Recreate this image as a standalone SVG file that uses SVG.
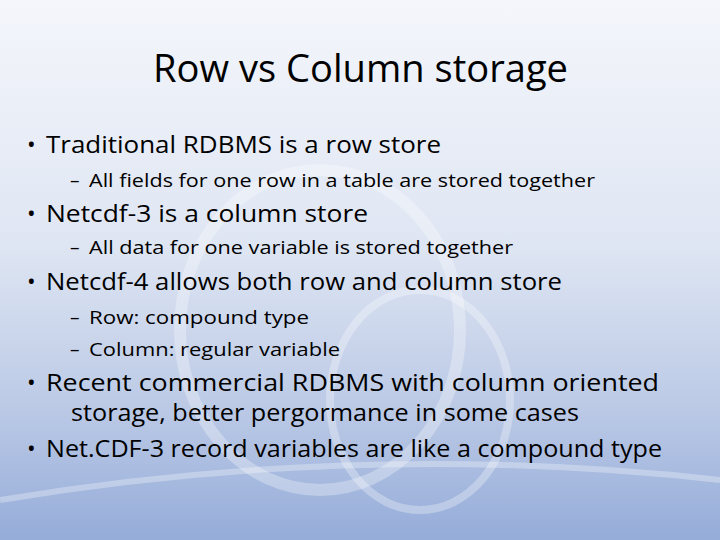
<svg xmlns="http://www.w3.org/2000/svg" width="720" height="540" viewBox="0 0 720 540">
<defs>
<linearGradient id="bg" x1="0" y1="0" x2="0" y2="1">
<stop offset="0" stop-color="#f4f6fb"/>
<stop offset="0.45" stop-color="#dfe6f3"/>
<stop offset="0.75" stop-color="#bccae6"/>
<stop offset="1" stop-color="#95acd9"/>
</linearGradient>
<style>
text{font-family:"Open Sans","Liberation Sans",sans-serif;fill:#000}
.t{font-size:38px}
.b{font-size:23px}
.s{font-size:19px}
</style>
</defs>
<rect width="720" height="540" fill="url(#bg)"/>
<g fill="none" stroke="#ffffff" stroke-opacity="0.3">
<ellipse cx="320" cy="330" rx="140" ry="160" stroke-width="12"/>
<ellipse cx="420" cy="400" rx="90" ry="110" stroke-width="8"/>
<path d="M0 500 Q360 440 720 480" stroke-width="6"/>
</g>
<text class="t" x="153" y="82" textLength="415" lengthAdjust="spacingAndGlyphs">Row vs Column storage</text>
<g class="b">
<text class="b" x="27" y="153">•</text><text class="b" x="46" y="153" textLength="395" lengthAdjust="spacingAndGlyphs">Traditional RDBMS is a row store</text>
<text class="s" x="70" y="187">–</text><text class="s" x="89" y="187" textLength="506" lengthAdjust="spacingAndGlyphs">All fields for one row in a table are stored together</text>
<text class="b" x="27" y="222">•</text><text class="b" x="46" y="222" textLength="322" lengthAdjust="spacingAndGlyphs">Netcdf-3 is a column store</text>
<text class="s" x="70" y="254">–</text><text class="s" x="89" y="254" textLength="424" lengthAdjust="spacingAndGlyphs">All data for one variable is stored together</text>
<text class="b" x="27" y="290">•</text><text class="b" x="46" y="290" textLength="516" lengthAdjust="spacingAndGlyphs">Netcdf-4 allows both row and column store</text>
<text class="s" x="70" y="324">–</text><text class="s" x="89" y="324" textLength="220" lengthAdjust="spacingAndGlyphs">Row: compound type</text>
<text class="s" x="70" y="356">–</text><text class="s" x="89" y="356" textLength="251" lengthAdjust="spacingAndGlyphs">Column: regular variable</text>
<text class="b" x="27" y="391">•</text><text class="b" x="46" y="391" textLength="613" lengthAdjust="spacingAndGlyphs">Recent commercial RDBMS with column oriented</text>
<text class="b" x="71" y="421" textLength="508" lengthAdjust="spacingAndGlyphs">storage, better pergormance in some cases</text>
<text class="b" x="27" y="457">•</text><text class="b" x="46" y="457" textLength="616" lengthAdjust="spacingAndGlyphs">Net.CDF-3 record variables are like a compound type</text>
</g>
</svg>
